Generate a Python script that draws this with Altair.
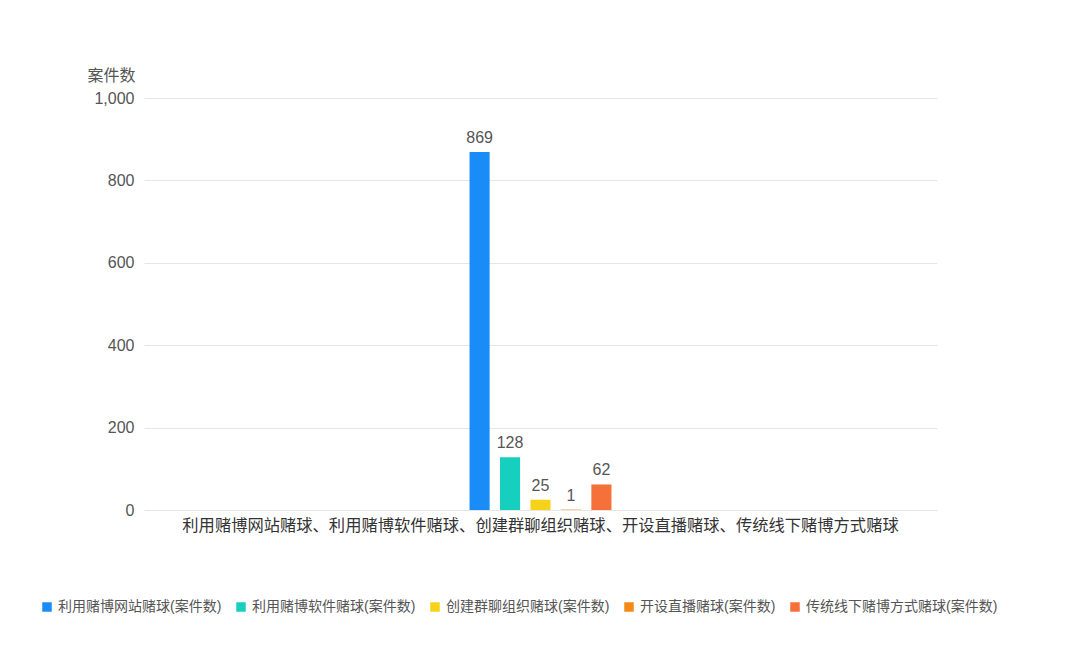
import altair as alt
import pandas as pd

category = "利用赌博网站赌球、利用赌博软件赌球、创建群聊组织赌球、开设直播赌球、传统线下赌博方式赌球"
series = [
    "利用赌博网站赌球(案件数)",
    "利用赌博软件赌球(案件数)",
    "创建群聊组织赌球(案件数)",
    "开设直播赌球(案件数)",
    "传统线下赌博方式赌球(案件数)",
]
values = [869, 128, 25, 1, 62]
colors = ["#1a8cf7", "#17cfbf", "#f7d21a", "#f28a14", "#f6703a"]

df = pd.DataFrame({"category": [category] * len(series), "series": series, "value": values})

FONT = "Liberation Sans, Noto Sans CJK SC, sans-serif"

base = alt.Chart(df).encode(
    x=alt.X(
        "category:N",
        title=None,
        scale=alt.Scale(paddingInner=0.564, paddingOuter=1),
        axis=alt.Axis(
            labelAngle=0, labelFontSize=16.3, labelColor="#333333", labelFont=FONT,
            labelPadding=7, ticks=False, domain=False,
            labelLimit=1000,
        ),
    ),
    xOffset=alt.XOffset(
        "series:N", sort=series,
        scale=alt.Scale(paddingInner=0.34, paddingOuter=0),
    ),
)

bars = base.mark_bar().encode(
    y=alt.Y(
        "value:Q",
        scale=alt.Scale(domain=[0, 1000], nice=False),
        axis=alt.Axis(
            values=[0, 200, 400, 600, 800, 1000], format=",.0f",
            title="案件数", titleAngle=0, titleAlign="right", titleBaseline="alphabetic",
            titleX=-9, titleY=-18, titleFontSize=16, titleFontWeight="normal",
            titleColor="#555555", titleFont=FONT,
            labelFontSize=16, labelColor="#555555", labelFont=FONT, labelPadding=10,
            ticks=False, domain=False, gridColor="#e6e6e6",
        ),
    ),
    color=alt.Color(
        "series:N", sort=series,
        scale=alt.Scale(domain=series, range=colors),
        legend=alt.Legend(
            title=None, orient="none", direction="horizontal",
            legendX=-104, legendY=502, symbolType="square", symbolSize=90,
            labelFontSize=14, labelColor="#555555", labelFont=FONT,
            columnPadding=12, symbolStrokeWidth=0, labelLimit=400,
        ),
    ),
)

labels = base.mark_text(dy=-6, baseline="bottom", fontSize=16, color="#555555", font=FONT).encode(
    y=alt.Y("value:Q"),
    text=alt.Text("value:Q"),
)

chart = (
    alt.layer(bars, labels)
    .properties(
        width=793, height=412,
        autosize=alt.AutoSizeParams(type="none"),
        padding={"left": 136, "top": 90, "right": 134, "bottom": 150},
    )
    .configure(background="white")
    .configure_view(stroke=None)
)

chart.save("out.html", embed_options={"renderer": "svg", "actions": False})
